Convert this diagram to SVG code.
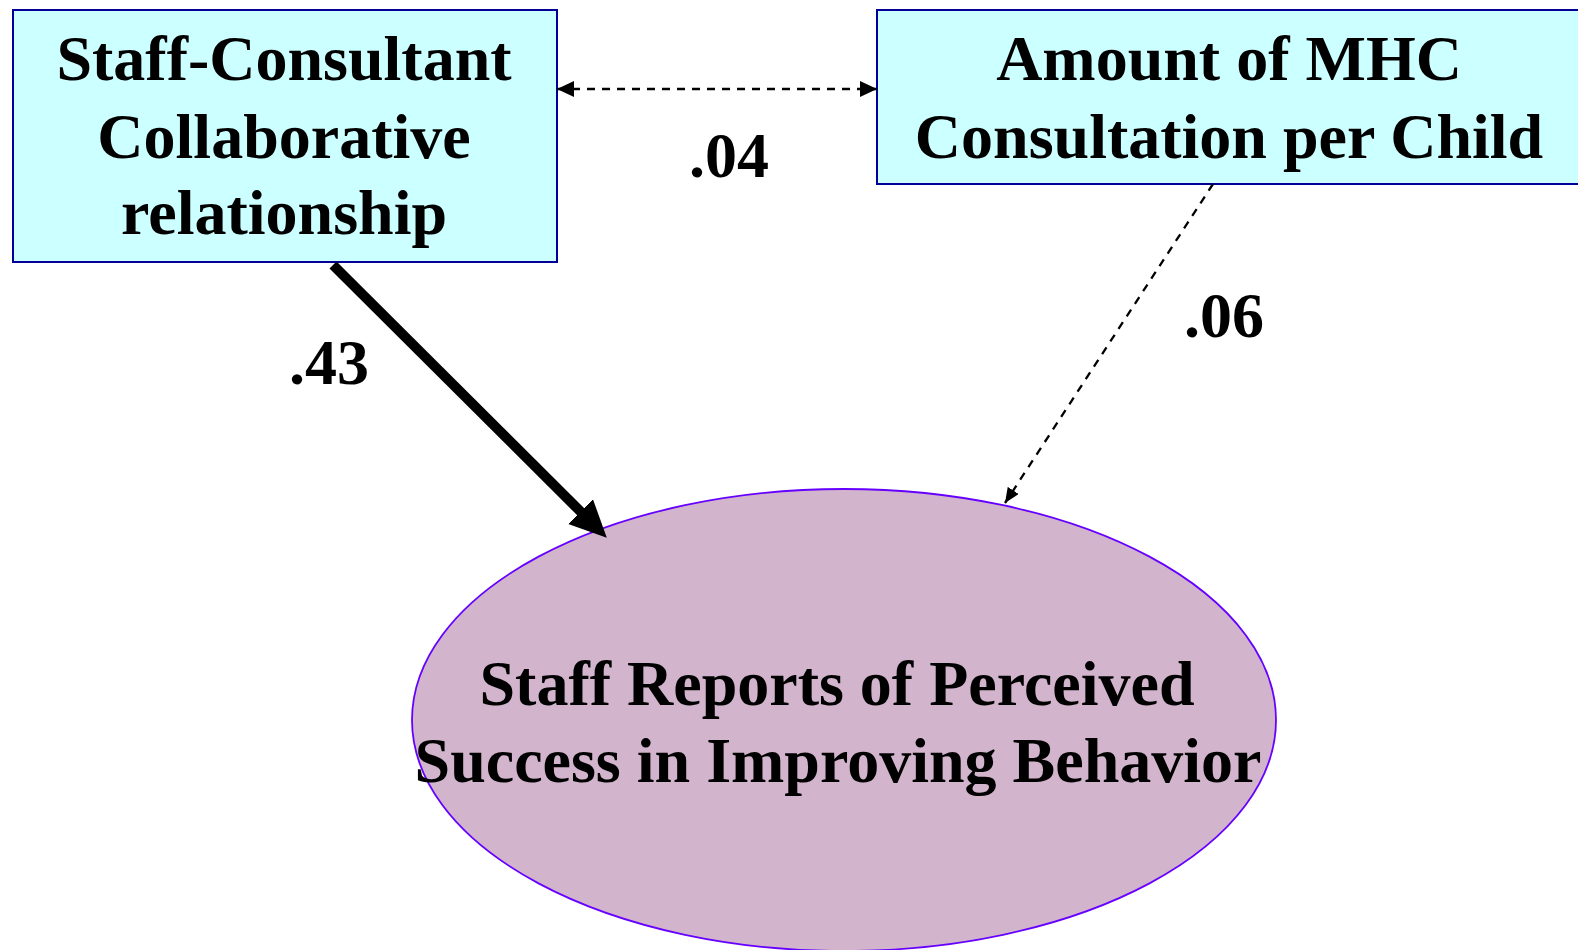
<svg xmlns="http://www.w3.org/2000/svg" width="1578" height="950" viewBox="0 0 1578 950">
<style>
.box{fill:#CCFFFF;stroke:#000099;stroke-width:2}
.ell{fill:#D2B4CC;stroke:#6600FF;stroke-width:1.8}
text{font-family:"Liberation Serif","Times New Roman",serif;font-weight:bold;fill:#000;text-anchor:middle}
.t{font-size:64px}
.lbl{font-size:64px}
.dash{stroke:#000;stroke-width:2.3;stroke-dasharray:8 7;fill:none}
.thick{stroke:#000;stroke-width:10;fill:none}
</style>
<defs>
<marker id="ah" markerUnits="userSpaceOnUse" markerWidth="18" markerHeight="18" refX="17" refY="8" orient="auto-start-reverse">
<path d="M0,0 L17,8 L0,16 z" fill="#000"/>
</marker>
<marker id="ahs" markerUnits="userSpaceOnUse" markerWidth="16" markerHeight="14" refX="15" refY="6.5" orient="auto">
<path d="M0,0 L15,6.5 L0,13 z" fill="#000"/>
</marker>
<marker id="ahb" markerUnits="userSpaceOnUse" markerWidth="38" markerHeight="38" refX="2" refY="18" orient="auto">
<path d="M0,0.5 L37,18 L0,35.5 z" fill="#000"/>
</marker>
</defs>
<g id="node-outcome">
<ellipse class="ell" cx="844" cy="720" rx="432" ry="231"/>
<text class="t" x="837" y="705">Staff Reports of Perceived</text>
<text class="t" x="838" y="782">Success in Improving Behavior</text>
</g>
<g id="node-collab">
<rect class="box" x="13" y="10" width="544" height="252"/>
<text class="t" x="284" y="80">Staff-Consultant</text>
<text class="t" x="284" y="158">Collaborative</text>
<text class="t" x="284" y="234">relationship</text>
</g>
<g id="node-amount">
<rect class="box" x="877" y="10" width="710" height="174"/>
<text class="t" x="1229" y="80">Amount of MHC</text>
<text class="t" x="1229" y="158">Consultation per Child</text>
</g>
<g id="connectors">
<line class="dash" x1="557" y1="89" x2="877" y2="89" marker-start="url(#ah)" marker-end="url(#ah)"/>
<line class="dash" x1="1213" y1="184" x2="1005" y2="503" marker-end="url(#ahs)"/>
<line class="thick" x1="333" y1="265" x2="582" y2="513" marker-end="url(#ahb)"/>
<text class="lbl" x="729" y="177">.04</text>
<text class="lbl" x="1224" y="337">.06</text>
<text class="lbl" x="329" y="384">.43</text>
</g>
</svg>
